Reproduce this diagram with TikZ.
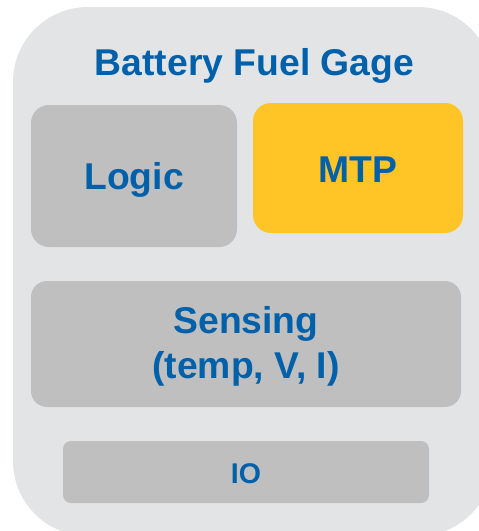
\documentclass[tikz,border=0pt]{standalone}
\usepackage{fontspec}
\setmainfont{Liberation Sans}
\definecolor{bgout}{HTML}{E3E4E6}
\definecolor{boxgray}{HTML}{BFBFBF}
\definecolor{mtpyellow}{HTML}{FFC425}
\definecolor{tiblue}{HTML}{0061AA}
\tikzset{
  blockbox/.style={fill=boxgray, draw=none, rounded corners=18pt},
  yellowbox/.style={fill=mtpyellow, draw=none, rounded corners=18pt},
  bigtext/.style={text=tiblue, font=\bfseries\fontsize{37.3}{45}\selectfont, inner sep=0pt, anchor=base, align=center},
  smalltext/.style={text=tiblue, font=\bfseries\fontsize{28.5}{34}\selectfont, inner sep=0pt, anchor=base}
}
\begin{document}
\begin{tikzpicture}[x=1pt,y=-1pt]
\useasboundingbox (0,0) rectangle (479,531);
\clip (0,0) rectangle (479,531);
\fill[white] (0,0) rectangle (479,531);
\fill[bgout, rounded corners=75pt] (13,7) rectangle (493,536);
% boxes
\fill[blockbox] (31,105) rectangle (237,247);
\fill[yellowbox] (253,103) rectangle (463,233);
\fill[blockbox, rounded corners=16pt] (31,281) rectangle (461,407);
\fill[blockbox, rounded corners=8pt] (63,441) rectangle (429,503);
% texts
\node[bigtext] (title) at (254.5,75) {Battery Fuel Gage};
\node[bigtext] (logic) at (134,189) {Logic};
\node[bigtext] (mtp) at (358,182) {MTP};
\node[bigtext] (sensing) at (246,333) {Sensing};
\node[bigtext] (sensing2) at (246,378) {(temp, V, I)};
\node[smalltext] (io) at (246,483) {IO};
\end{tikzpicture}
\end{document}
